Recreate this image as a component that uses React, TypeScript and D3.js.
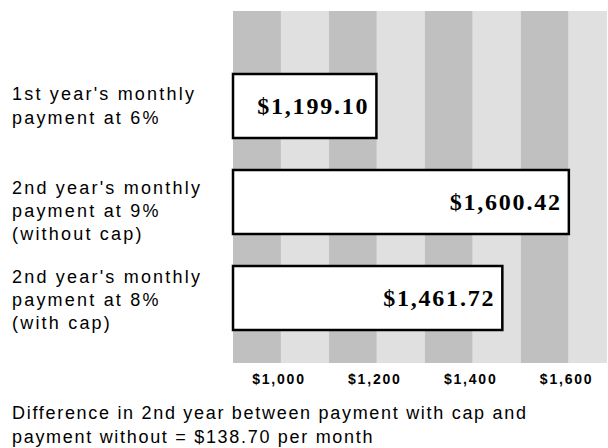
import React from "react";
import * as d3 from "d3";

// ---- data ----
const categories = [
  "1st year's monthly payment at 6%",
  "2nd year's monthly payment at 9% (without cap)",
  "2nd year's monthly payment at 8% (with cap)",
];
const categoryLines = [
  ["1st year's monthly", "payment at 6%"],
  ["2nd year's monthly", "payment at 9%", "(without cap)"],
  ["2nd year's monthly", "payment at 8%", "(with cap)"],
];
const payments = [1199.1, 1600.42, 1461.72];
const tickValues = [1000, 1200, 1400, 1600];
const axisDomain = [900, 1680];
const bandStep = 100;
const footnoteLines = [
  "Difference in 2nd year between payment with cap and",
  "payment without = $138.70 per month",
];

// ---- layout ----
const W = 608;
const H = 448;
const plotLeft = 233;
const plotRight = 607;
const plotTop = 11;
const plotBottom = 363;
const labelNudge = [0, 9, 2];
const lineH = 23.3;

const sans = "'Liberation Sans', Arial, sans-serif";
const serif = "'Liberation Serif', 'Times New Roman', serif";

export default function App() {
  const x = d3.scaleLinear().domain(axisDomain).range([plotLeft, plotRight]);
  const y = d3
    .scaleBand<string>()
    .domain(categories)
    .range([58, 346])
    .paddingInner(1 / 3)
    .paddingOuter(1 / 6);

  const bands = d3.range(axisDomain[0], axisDomain[1], bandStep);
  const fmtVal = d3.format("$,.2f");
  const fmtTick = d3.format("$,.0f");

  return (
    <svg
      width={W}
      height={H}
      style={{ position: "absolute", left: 0, top: 0, background: "#fff" }}
    >
      {bands.map((b, i) => (
        <rect
          key={b}
          x={x(b)}
          y={plotTop}
          width={x(Math.min(b + bandStep, axisDomain[1])) - x(b)}
          height={plotBottom - plotTop}
          fill={i % 2 === 0 ? "#c0c0c0" : "#e0e0e0"}
        />
      ))}
      {categories.map((c, i) => {
        const y0 = y(c)!;
        const bh = y.bandwidth();
        const cy = y0 + bh / 2;
        return (
          <g key={c}>
            <rect
              x={x(axisDomain[0])}
              y={y0}
              width={x(payments[i]) - x(axisDomain[0])}
              height={bh}
              fill="#fff"
              stroke="#000"
              strokeWidth={2.5}
            />
            <text
              x={x(payments[i]) - 7}
              y={cy + 8}
              textAnchor="end"
              fontFamily={serif}
              fontWeight="bold"
              fontSize={24}
              letterSpacing={1.8}
              fill="#000"
            >
              {fmtVal(payments[i])}
            </text>
            {categoryLines[i].map((ln, j) => (
              <text
                key={j}
                x={12}
                y={
                  cy -
                  ((categoryLines[i].length - 1) * lineH) / 2 +
                  6 +
                  labelNudge[i] +
                  j * lineH
                }
                fontFamily={sans}
                fontSize={18}
                letterSpacing={2.2}
                fill="#000"
              >
                {ln}
              </text>
            ))}
          </g>
        );
      })}
      {tickValues.map((t) => (
        <text
          key={t}
          x={x(t) - 2}
          y={384}
          textAnchor="middle"
          fontFamily={sans}
          fontWeight="bold"
          fontSize={14}
          letterSpacing={1.8}
          fill="#000"
        >
          {fmtTick(t)}
        </text>
      ))}
      {footnoteLines.map((ln, j) => (
        <text
          key={j}
          x={12}
          y={419 + j * 24}
          fontFamily={sans}
          fontSize={18}
          letterSpacing={1.7}
          fill="#000"
        >
          {ln}
        </text>
      ))}
    </svg>
  );
}
